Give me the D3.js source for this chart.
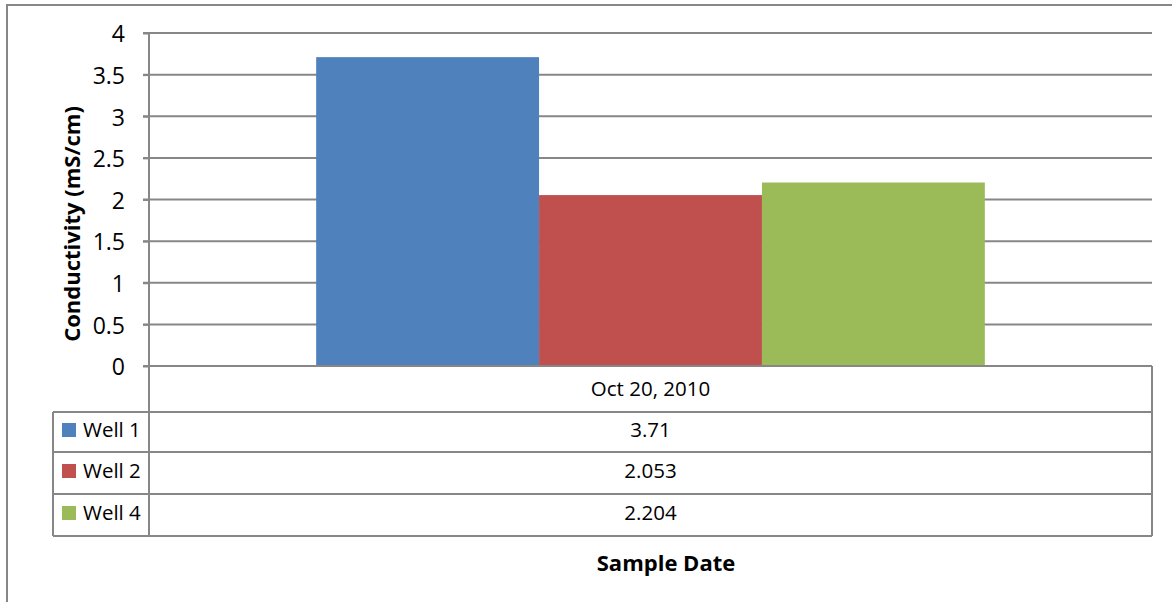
<!DOCTYPE html>
<html>
<head>
<meta charset="utf-8">
<script src="https://cdn.jsdelivr.net/npm/d3@7"></script>
<style>
  html, body { margin: 0; padding: 0; background: #fff; }
  svg { display: block; }
  text { font-family: "Open Sans", "Liberation Sans", sans-serif; fill: #000; }
</style>
</head>
<body>
<svg id="chart" width="1172" height="602"></svg>
<script>
const categories = ["Oct 20, 2010"];
const seriesNames = ["Well 1", "Well 2", "Well 4"];
const seriesValues = [3.71, 2.053, 2.204];
const valueLabels = ["3.71", "2.053", "2.204"];
const yTicks = [0, 0.5, 1, 1.5, 2, 2.5, 3, 3.5, 4];
const yTickLabels = ["0", "0.5", "1", "1.5", "2", "2.5", "3", "3.5", "4"];
const seriesColors = ["#4F81BD", "#C0504D", "#9BBB59"];
const yTitle = "Conductivity (mS/cm)";
const xTitle = "Sample Date";

const svg = d3.select("#chart");
const gridColor = "#878787";

const L = 149, R = 1152, T = 33, B = 366;
const tableLeft = 53;
const rowEdges = [366, 412, 452, 494, 536];

// outer chart border
svg.append("path")
  .attr("d", `M7,602 V5 H1172`)
  .attr("fill", "none").attr("stroke", gridColor).attr("stroke-width", 2);

const y = d3.scaleLinear().domain([0, 4]).range([B, T]);
const x0 = d3.scaleBand().domain(categories).range([L, R]).paddingInner(0).paddingOuter(0.25);
const x1 = d3.scaleBand().domain(seriesNames).range([0, x0.bandwidth()]).padding(0);

// gridlines
svg.append("g").selectAll("line").data(yTicks.filter(d => d > 0)).join("line")
  .attr("x1", L - 6).attr("x2", R)
  .attr("y1", d => y(d)).attr("y2", d => y(d))
  .attr("stroke", gridColor).attr("stroke-width", 2);

// bars
const gBars = svg.append("g");
categories.forEach(cat => {
  gBars.selectAll("rect").data(seriesNames).join("rect")
    .attr("x", (s) => x0(cat) + x1(s))
    .attr("width", x1.bandwidth())
    .attr("y", (s, i) => y(seriesValues[i]))
    .attr("height", (s, i) => y(0) - y(seriesValues[i]))
    .attr("fill", (s, i) => seriesColors[i]);
});

// y axis
const yAxis = d3.axisLeft(y).tickValues(yTicks).tickFormat((d, i) => yTickLabels[i]).tickSize(6).tickPadding(18);
const gy = svg.append("g").attr("transform", `translate(${L},0)`).call(yAxis);
gy.select(".domain").remove();
gy.selectAll(".tick line").attr("stroke", gridColor).attr("stroke-width", 2);
gy.selectAll(".tick text").attr("font-size", 23).attr("fill", "#000").attr("dy", "0.38em")
  .style("font-family", "'Open Sans', sans-serif");

// axis lines / table lines
const lines = svg.append("g").attr("stroke", gridColor).attr("stroke-width", 2);
lines.append("line").attr("x1", L).attr("x2", L).attr("y1", T).attr("y2", rowEdges[4]);
lines.append("line").attr("x1", L - 6).attr("x2", R).attr("y1", B).attr("y2", B);
lines.append("line").attr("x1", R).attr("x2", R).attr("y1", B).attr("y2", rowEdges[4]);
lines.append("line").attr("x1", tableLeft).attr("x2", tableLeft).attr("y1", rowEdges[1]).attr("y2", rowEdges[4]);
rowEdges.slice(1).forEach(yy => {
  lines.append("line").attr("x1", tableLeft).attr("x2", R).attr("y1", yy).attr("y2", yy);
});

// category label
categories.forEach(cat => {
  svg.append("text").attr("x", x0(cat) + x0.bandwidth() / 2).attr("y", (rowEdges[0] + rowEdges[1]) / 2)
    .attr("text-anchor", "middle").attr("dy", "0.36em").attr("font-size", 20.5).text(cat);
});

// legend rows + values
seriesNames.forEach((s, i) => {
  const cy = (rowEdges[i + 1] + rowEdges[i + 2]) / 2 - 2;
  svg.append("rect").attr("x", 62).attr("y", cy - 7).attr("width", 14).attr("height", 14).attr("fill", seriesColors[i]);
  svg.append("text").attr("x", 83).attr("y", cy).attr("dy", "0.36em").attr("font-size", 20.5).text(s);
  svg.append("text").attr("x", (L + R) / 2).attr("y", cy).attr("dy", "0.36em")
    .attr("text-anchor", "middle").attr("font-size", 20.5).text(valueLabels[i]);
});

// axis titles
svg.append("text").attr("transform", `translate(72,224) rotate(-90)`)
  .attr("text-anchor", "middle").attr("dy", "0.36em").attr("font-size", 22).attr("font-weight", "bold").text(yTitle);
svg.append("text").attr("x", 666).attr("y", 563).attr("text-anchor", "middle").attr("dy", "0.36em")
  .attr("font-size", 22).attr("font-weight", "bold").text(xTitle);
</script>
</body>
</html>
